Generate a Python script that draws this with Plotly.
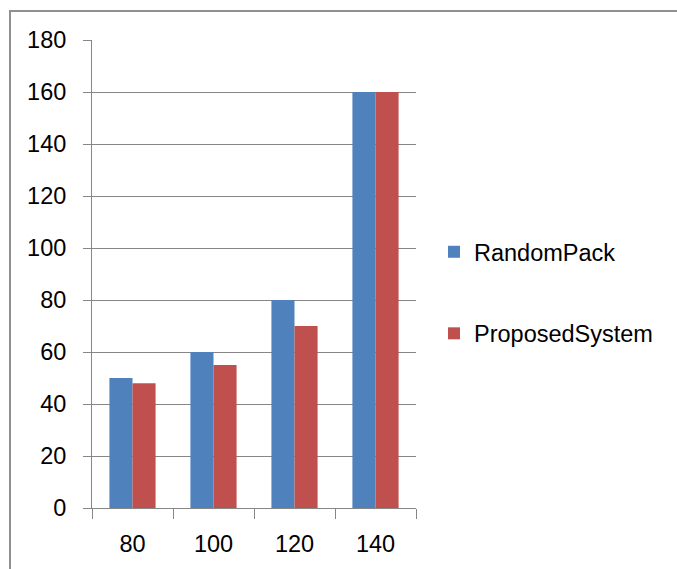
import plotly.graph_objects as go

categories = ["80", "100", "120", "140"]
random_pack = [50, 60, 80, 160]
proposed_system = [48, 55, 70, 160]
y_ticks = [0, 20, 40, 60, 80, 100, 120, 140, 160, 180]

W, H = 677, 569
L, R, T, B = 92, 261, 40, 61
pw, ph = W - L - R, H - T - B

def px_x(x):
    return (x - L) / pw

def px_y(y):
    return (H - B - y) / ph

font = dict(family="Liberation Sans, Arial, sans-serif", size=23.5, color="#000000")
grid = "#868686"

fig = go.Figure()
fig.add_trace(go.Bar(x=categories, y=random_pack, name="RandomPack",
                     marker=dict(color="#4F81BD", line=dict(width=0)),
                     legendgroup="a"))
fig.add_trace(go.Bar(x=categories, y=proposed_system, name="ProposedSystem",
                     marker=dict(color="#C0504D", line=dict(width=0)),
                     legendgroup="b"))

fig.update_layout(
    width=W, height=H,
    margin=dict(l=L, r=R, t=T, b=B),
    paper_bgcolor="white", plot_bgcolor="white",
    font=font,
    barmode="group", bargap=0.43, bargroupgap=0,
    showlegend=True,
    legend=dict(x=px_x(434), y=px_y(230), xanchor="left", yanchor="top",
                font=font, tracegroupgap=48, traceorder="grouped",
                bgcolor="rgba(0,0,0,0)", itemsizing="constant"),
    xaxis=dict(type="category", showgrid=False, showline=True, linecolor=grid,
               linewidth=1, ticks="outside", ticklen=10, tickcolor=grid,
               tickson="boundaries", tickfont=font, ticklabelstandoff=15),
    yaxis=dict(range=[0, 180], tickvals=y_ticks, showgrid=True, gridcolor=grid,
               gridwidth=1, showline=True, linecolor=grid, linewidth=1,
               ticks="outside", ticklen=8, tickcolor=grid, tickfont=font,
               ticklabelstandoff=12, zeroline=False),
    shapes=[dict(type="rect", xref="paper", yref="paper",
                 x0=px_x(10), x1=px_x(W + 50), y0=px_y(H + 50), y1=px_y(11),
                 line=dict(color="#909090", width=2), fillcolor="rgba(0,0,0,0)",
                 layer="below")],
)

fig.write_html("out.html")
